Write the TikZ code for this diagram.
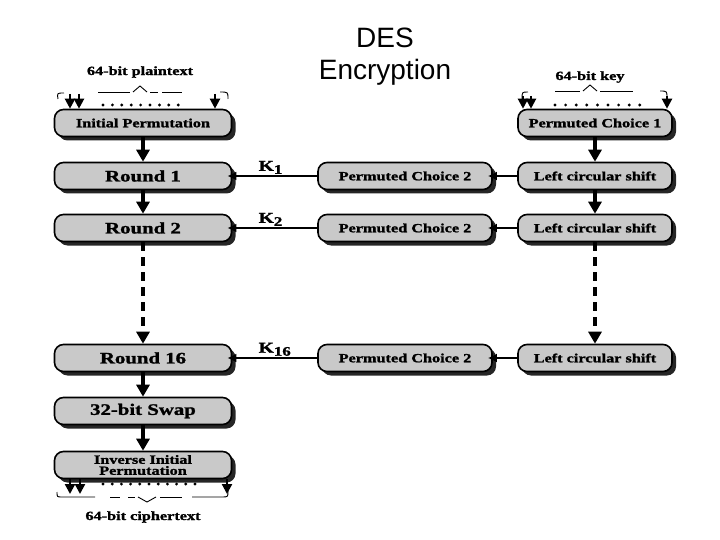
\documentclass[tikz,border=0pt]{standalone}
\usepackage{fontspec}
\setmainfont{Liberation Serif}
\newfontfamily\titlefont{Liberation Sans}
\newfontfamily\boxfont[FakeStretch=1.3, FakeBold=1.5]{Liberation Serif}
\usetikzlibrary{shadows,arrows.meta}
\begin{document}
\begin{tikzpicture}[x=1pt,y=-1pt,
  blk/.style={draw=black, line width=1.6pt, fill=black!21, rounded corners=9pt,
    minimum height=27pt, inner sep=0pt, align=center,
    font=\boxfont\bfseries\fontsize{12.5}{11}\selectfont,
    drop shadow={shadow xshift=4pt, shadow yshift=-4pt, fill=black!85, opacity=1}},
  lw/.style={blk, minimum width=177pt},
  mw/.style={blk, minimum width=174pt},
  rw/.style={blk, minimum width=154pt},
  big/.style={font=\boxfont\bfseries\fontsize{16}{16}\selectfont},
  lbl/.style={font=\boxfont\bfseries\fontsize{12.5}{12}\selectfont, inner sep=0pt},
  klbl/.style={font=\boxfont\bfseries\fontsize{15}{15}\selectfont, inner sep=1pt},
  vflow/.style={line width=3.2pt, -{Triangle[length=12pt,width=13pt]}},
  vdash/.style={vflow, dash pattern=on 9pt off 6pt},
  hflow/.style={line width=2.4pt, -{Latex[length=9pt,width=9pt]}, shorten >=-5pt},
  tick/.style={line width=2.2pt, -{Triangle[length=10pt,width=10pt]}},
  brc/.style={line width=0.9pt},
  dot/.style={fill=black}
]
\useasboundingbox (0,0) rectangle (720,540);

% title
\node[font=\titlefont\fontsize{28}{32}\selectfont, align=center, inner sep=0pt] (title) at (385,57) {DES\\Encryption};

% left column
\node[lw] (ip) at (143,123) {Initial Permutation};
\node[lw,big] (r1) at (143,176) {Round 1};
\node[lw,big] (r2) at (143,228) {Round 2};
\node[lw,big] (r16) at (143,358) {Round 16};
\node[lw,big] (sw) at (143,411) {32-bit Swap};
\node[lw] (iip) at (143,465) {Inverse Initial\\Permutation};

% middle column
\node[mw] (pca) at (405,176) {Permuted Choice 2};
\node[mw] (pcb) at (405,228) {Permuted Choice 2};
\node[mw] (pcc) at (405,358) {Permuted Choice 2};

% right column
\node[rw] (pc1) at (595,123) {Permuted Choice 1};
\node[rw] (ls1) at (595,176) {Left circular shift};
\node[rw] (ls2) at (595,228) {Left circular shift};
\node[rw] (ls16) at (595,358) {Left circular shift};

% vertical flows
\draw[vflow] (ip.south) -- (r1.north);
\draw[vflow] (r1.south) -- (r2.north);
\draw[vdash] (r2.south) -- (r16.north);
\draw[vflow] (r16.south) -- (sw.north);
\draw[vflow] (sw.south) -- (iip.north);
\draw[vflow] (pc1.south) -- (ls1.north);
\draw[vflow] (ls1.south) -- (ls2.north);
\draw[vdash] (ls2.south) -- (ls16.north);

% horizontal flows
\draw[hflow] (pca.west) -- node[klbl, above, pos=0.55] (k1) {K\raisebox{-3pt}{\fontsize{13}{13}\selectfont 1}} (r1.east);
\draw[hflow] (pcb.west) -- node[klbl, above, pos=0.55] (k2) {K\raisebox{-3pt}{\fontsize{13}{13}\selectfont 2}} (r2.east);
\draw[hflow] (pcc.west) -- node[klbl, above, pos=0.5] (k16) {K\raisebox{-3pt}{\fontsize{13}{13}\selectfont 16}} (r16.east);
\draw[hflow] (ls1.west) -- (pca.east);
\draw[hflow] (ls2.west) -- (pcb.east);
\draw[hflow] (ls16.west) -- (pcc.east);

% plaintext input
\node[lbl] (pt) at (140,72) {64-bit plaintext};
\draw[brc] (58,99) .. controls (57,93) .. (64,93);
\draw[brc] (98,92) -- (130,92);
\draw[brc] (133,92) -- (140,86) -- (147,92);
\draw[brc] (150,92) -- (158,92);
\draw[brc] (162,92) -- (182,92);
\draw[brc] (220,92) .. controls (228,92) .. (228,99);
\foreach \i in {0,...,8} \fill[dot] (103+\i*9.4,105) circle (1.6);
\coordinate (pa) at (70,94);
\coordinate (pb) at (79,94);
\coordinate (pc) at (215,94);
\draw[tick] (pa) -- (pa |- ip.north);
\draw[tick] (pb) -- (pb |- ip.north);
\draw[tick] (pc) -- (pc |- ip.north);

% key input
\node[lbl] (key) at (590,77) {64-bit key};
\draw[brc] (522,99) .. controls (522,92) .. (528,92);
\draw[brc] (555,91) -- (580,91);
\draw[brc] (583,91) -- (590,85) -- (597,91);
\draw[brc] (600,91) -- (633,91);
\draw[brc] (660,91) .. controls (667,91) .. (667,98);
\foreach \i in {0,...,8} \fill[dot] (555+\i*10.6,105) circle (1.6);
\coordinate (ka) at (523,96);
\coordinate (kb) at (531,96);
\coordinate (kc) at (667,96);
\draw[tick] (ka) -- (ka |- pc1.north);
\draw[tick] (kb) -- (kb |- pc1.north);
\draw[tick] (kc) -- (kc |- pc1.north);

% ciphertext output
\coordinate (ca) at (70,494);
\coordinate (cb) at (80,494);
\coordinate (cc) at (227,494);
\draw[tick] (ca |- iip.south) -- (ca);
\draw[tick] (cb |- iip.south) -- (cb);
\draw[tick] (cc |- iip.south) -- (cc);
\foreach \i in {0,...,10} \fill[dot] (103+\i*9.2,484) circle (1.6);
\draw[brc] (57,492) .. controls (57,497) .. (62,497) -- (95,497);
\draw[brc] (110,497) -- (120,497);
\draw[brc] (128,497) -- (135,497);
\draw[brc] (138,497) -- (147,502) -- (156,497);
\draw[brc] (160,497) -- (182,497);
\draw[brc] (192,497) -- (222,497) .. controls (228,497) .. (228,491);
\node[lbl] (ct) at (143,517) {64-bit ciphertext};
\end{tikzpicture}
\end{document}
